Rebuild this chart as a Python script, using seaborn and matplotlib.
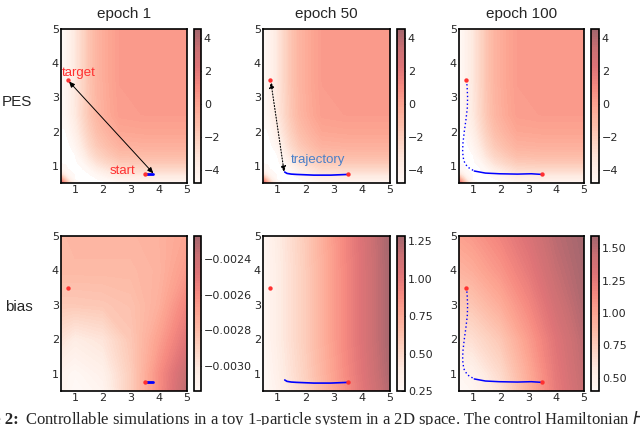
import numpy as np
import matplotlib
matplotlib.use('Agg')
import matplotlib.pyplot as plt
from matplotlib.colors import ListedColormap
import seaborn as sns

sns.set_style('white')
plt.rcParams['font.family'] = ['DejaVu Sans']
plt.rcParams['axes.unicode_minus'] = True

# ---------------- data ----------------
epochs = ['epoch 1', 'epoch 50', 'epoch 100']
row_labels = ['PES', 'bias']

# potential energy surface (same at every epoch), rows = y, cols = x
pes_x = [0.5, 0.65, 0.8, 1.0, 1.25, 1.5, 1.8, 2.2, 2.6, 3.5, 5.0]
pes_y = [0.5, 0.6, 0.75, 0.9, 1.1, 1.3, 1.6, 2.0, 2.5, 3.5, 5.0]
pes_z = [
    [3.0, 0.0, -2.5, -4.5, -4.8, -4.8, -4.8, -4.8, -4.5, -4.4, -4.4],
    [0.5, -2.0, -3.8, -4.8, -4.8, -4.8, -4.8, -4.6, -4.1, -4.0, -4.0],
    [-3.0, -4.0, -4.6, -4.8, -4.8, -4.8, -4.5, -3.9, -3.4, -3.3, -3.3],
    [-4.6, -4.7, -4.8, -4.8, -4.8, -4.6, -3.8, -3.2, -2.7, -2.6, -2.6],
    [-4.8, -4.8, -4.8, -4.8, -4.7, -3.8, -3.0, -2.4, -1.9, -1.8, -1.8],
    [-4.8, -4.8, -4.8, -4.8, -4.1, -3.2, -2.4, -1.8, -1.3, -1.2, -1.2],
    [-4.8, -4.8, -4.8, -4.4, -3.5, -2.6, -1.8, -1.2, -0.7, -0.6, -0.6],
    [-4.8, -4.8, -4.5, -3.9, -3.0, -2.1, -1.3, -0.7, -0.2, -0.1, -0.1],
    [-4.7, -4.5, -4.1, -3.5, -2.6, -1.7, -0.9, -0.3, 0.2, 0.3, 0.3],
    [-4.6, -4.4, -4.0, -3.4, -2.5, -1.6, -0.8, -0.2, 0.3, 0.4, 0.4],
    [-4.6, -4.4, -4.0, -3.4, -2.5, -1.6, -0.8, -0.2, 0.3, 0.4, 0.4],
]
pes_range = [-4.77, 4.55]
pes_ticks = [-4, -2, 0, 2, 4]

bias_x = [0.5, 1.0, 2.0, 3.0, 4.0, 5.0]
bias_y = [0.5, 1.0, 2.0, 3.0, 4.0, 5.0]
bias1_z = [
    [-0.003097, -0.003140, -0.003097, -0.002879, -0.002618, -0.002340],
    [-0.003097, -0.003123, -0.003070, -0.002879, -0.002618, -0.002374],
    [-0.002983, -0.003036, -0.002992, -0.002853, -0.002688, -0.002488],
    [-0.002862, -0.002862, -0.002853, -0.002827, -0.002749, -0.002575],
    [-0.002792, -0.002792, -0.002792, -0.002792, -0.002766, -0.002662],
    [-0.002792, -0.002775, -0.002775, -0.002775, -0.002757, -0.002705],
]
bias1_range = [-0.00314, -0.00227]
bias1_ticks = [-0.0030, -0.0028, -0.0026, -0.0024]

bias50_z = [
    [0.25, 0.32, 0.52, 0.76, 1.00, 1.23],
    [0.25, 0.34, 0.54, 0.78, 1.02, 1.25],
    [0.27, 0.36, 0.56, 0.80, 1.04, 1.27],
    [0.27, 0.36, 0.56, 0.80, 1.04, 1.27],
    [0.27, 0.36, 0.56, 0.80, 1.04, 1.27],
    [0.28, 0.37, 0.57, 0.81, 1.05, 1.28],
]
bias50_range = [0.25, 1.285]
bias50_ticks = [0.25, 0.50, 0.75, 1.00, 1.25]

bias100_z = [
    [0.40, 0.44, 0.62, 0.93, 1.24, 1.45],
    [0.44, 0.48, 0.67, 0.96, 1.26, 1.47],
    [0.60, 0.64, 0.79, 1.04, 1.30, 1.50],
    [0.76, 0.80, 0.95, 1.15, 1.38, 1.55],
    [0.91, 0.95, 1.08, 1.25, 1.45, 1.58],
    [1.02, 1.06, 1.18, 1.33, 1.50, 1.60],
]
bias100_range = [0.397, 1.595]
bias100_ticks = [0.50, 0.75, 1.00, 1.25, 1.50]

target_xy = [0.75, 3.5]
start_xy = [3.5, 0.75]

traj1_x = [3.5, 3.8]
traj1_y = [0.75, 0.75]
traj50_x = [3.5, 3.2, 2.9, 2.6, 2.3, 2.0, 1.7, 1.5, 1.35, 1.27]
traj50_y = [0.75, 0.74, 0.73, 0.73, 0.73, 0.74, 0.75, 0.76, 0.78, 0.82]
traj100_fast_x = [0.75, 0.79, 0.81, 0.80, 0.75, 0.69, 0.64, 0.63, 0.67, 0.80, 1.05]
traj100_fast_y = [3.5, 3.35, 3.0, 2.7, 2.35, 2.0, 1.65, 1.4, 1.15, 0.97, 0.85]
traj100_slow_x = [1.05, 1.45, 1.95, 2.6, 3.1, 3.5]
traj100_slow_y = [0.85, 0.79, 0.77, 0.76, 0.77, 0.75]

arrow1 = [[3.8, 0.78], [0.78, 3.47]]
arrow50 = [[1.25, 0.82], [0.78, 3.45]]

caption_bold = 'Figure 2:'
caption_text = ('Controllable simulations in a toy 1-particle system in a 2D space. '
                'The control Hamiltonian $H$')

# ---------------- style ----------------
_reds = plt.get_cmap('Reds')(np.linspace(0, 1, 256))
_reds[:, :3] = 0.6 * _reds[:, :3] + 0.4   # semi-transparent look over white
cmap = ListedColormap(_reds)

W, H = 640, 425
fig = plt.figure(figsize=(6.4, 4.25), dpi=100)


def fx(px):
    return px / W


def fy(py):
    return 1 - py / H


ax_cols = [(61, 187, 194, 201), (263, 390, 397, 405), (459, 584, 591, 599)]
ax_rows = [(29, 183), (236, 391)]

sans = ['Liberation Sans', 'DejaVu Sans']

fields = [
    [(pes_x, pes_y, pes_z, pes_range, pes_ticks)] * 3,
    [(bias_x, bias_y, bias1_z, bias1_range, bias1_ticks),
     (bias_x, bias_y, bias50_z, bias50_range, bias50_ticks),
     (bias_x, bias_y, bias100_z, bias100_range, bias100_ticks)],
]


def fmt_factory(r, c):
    if r == 1 and c == 0:
        return lambda v, p: f'{v:.4f}'.replace('-', '\u2212')
    if r == 1:
        return lambda v, p: f'{v:.2f}'
    return lambda v, p: f'{v:g}'.replace('-', '\u2212')


for r in range(2):
    top, bot = ax_rows[r]
    for c in range(3):
        l, rr, cl, cr = ax_cols[c]
        ax = fig.add_axes([fx(l), fy(bot), fx(rr - l), (bot - top) / H])
        cax = fig.add_axes([fx(cl), fy(bot), fx(cr - cl), (bot - top) / H])
        xs, ys, zs, rng, ticks = fields[r][c]
        levels = np.linspace(rng[0], rng[1], 60)
        cs = ax.contourf(xs, ys, np.array(zs), levels=levels, cmap=cmap,
                         antialiased=False)
        cb = fig.colorbar(cs, cax=cax, ticks=ticks)
        cb.outline.set_linewidth(1.2)
        cb.outline.set_edgecolor('black')
        cax.tick_params(direction='in', length=3, width=0.6, labelsize=8, pad=2)
        cb.ax.yaxis.set_major_formatter(matplotlib.ticker.FuncFormatter(fmt_factory(r, c)))

        # trajectories
        if c == 0:
            sns.lineplot(x=traj1_x, y=traj1_y, ax=ax, sort=False, color='blue',
                         linewidth=2.0, estimator=None)
            if r == 0:
                ax.annotate('', xy=arrow1[1], xytext=arrow1[0],
                            arrowprops=dict(arrowstyle='<|-|>,head_length=0.35,head_width=0.15',
                                            color='black', lw=0.7, shrinkA=0, shrinkB=0))
        elif c == 1:
            sns.lineplot(x=traj50_x, y=traj50_y, ax=ax, sort=False, color='blue',
                         linewidth=1.2, estimator=None)
            if r == 0:
                ax.annotate('', xy=arrow50[1], xytext=arrow50[0],
                            arrowprops=dict(arrowstyle='<|-|>,head_length=0.35,head_width=0.15',
                                            color='black', lw=0.8, ls=':', shrinkA=0, shrinkB=0))
        else:
            sns.lineplot(x=traj100_fast_x, y=traj100_fast_y, ax=ax, sort=False,
                         color='blue', linewidth=1.0, linestyle=(0, (1, 1.8)), estimator=None)
            sns.lineplot(x=traj100_slow_x, y=traj100_slow_y, ax=ax, sort=False,
                         color='blue', linewidth=1.1, estimator=None)

        sns.scatterplot(x=[target_xy[0], start_xy[0]], y=[target_xy[1], start_xy[1]],
                        ax=ax, color='#ff3030', s=10, linewidth=0, zorder=5)

        if r == 0 and c == 0:
            ax.text(0.53, 3.72, 'target', color='#ff3030', fontsize=9.5,
                    family=sans, va='center', ha='left')
            ax.text(2.23, 0.86, 'start', color='#ff3030', fontsize=9.5,
                    family=sans, va='center', ha='left')
        if r == 0 and c == 1:
            ax.text(1.5, 1.17, 'trajectory', color='#4a80c8', fontsize=9.5,
                    family=sans, va='center', ha='left')

        ax.set_xlim(0.5, 5)
        ax.set_ylim(0.5, 5)
        ax.set_xticks([1, 2, 3, 4, 5])
        ax.set_yticks([1, 2, 3, 4, 5])
        ax.tick_params(length=0, labelsize=8, pad=1.5)
        ax.set_xlabel('')
        ax.set_ylabel('')
        for s in ax.spines.values():
            s.set_visible(True)
            s.set_linewidth(1.2)
            s.set_edgecolor('black')
        if r == 0:
            ax.set_title(epochs[c], fontsize=11, family=sans, pad=8)

fig.text(fx(17), fy(102), row_labels[0], fontsize=11, family=sans, ha='center', va='center')
fig.text(fx(19), fy(307), row_labels[1], fontsize=11, family=sans, ha='center', va='center')

serif = ['Liberation Serif', 'DejaVu Serif']
fig.text(fx(19), 0.003, caption_bold, fontsize=12, family=serif, weight='bold',
         ha='right', va='baseline')
fig.text(fx(25), 0.003, caption_text, fontsize=12, family=serif,
         ha='left', va='baseline')

fig.savefig('out.png', dpi=100)
